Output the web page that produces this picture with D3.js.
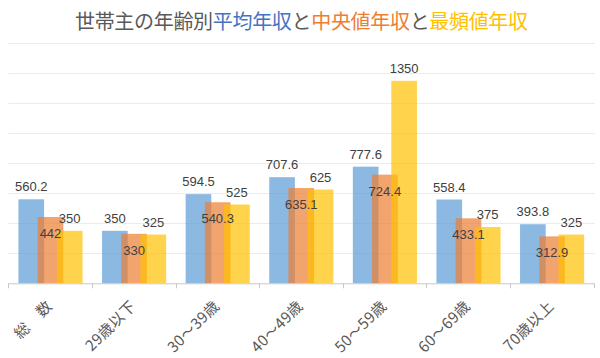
<!DOCTYPE html>
<html><head><meta charset="utf-8">
<script src="https://cdn.jsdelivr.net/npm/d3@7"></script>
<style>body{margin:0;background:#fff}svg{display:block}</style>
</head><body>
<script>
const categories = ["総　数","29歳以下","30～39歳","40～49歳","50～59歳","60～69歳","70歳以上"];
const meanIncome = [560.2, 350, 594.5, 707.6, 777.6, 558.4, 393.8];
const medianIncome = [442, 330, 540.3, 635.1, 724.4, 433.1, 312.9];
const modeIncome = [350, 325, 525, 625, 1350, 375, 325];
const yTicks = [0,200,400,600,800,1000,1200,1400,1600];
const seriesNames = ["平均年収","中央値年収","最頻値年収"];
const seriesColors = ["#5B9BD5","#ED7D31","#FFC000"];

const W=600,H=358;
const svg=d3.select("body").append("svg").attr("width",W).attr("height",H);
const x=d3.scaleBand().domain(categories).range([8.4,593.6]).padding(0);
const y=d3.scaleLinear().domain([0,1600]).range([283.3,43.3]);
const sub=d3.scaleLinear().domain([0,2]).range([0.12,0.58]); // fraction of band
const barW=x.bandwidth()*0.307;

// gridlines
svg.append("g").selectAll("line").data(yTicks.filter(d=>d>0)).join("line")
  .attr("x1",8.4).attr("x2",595).attr("y1",d=>Math.round(y(d))+0.5).attr("y2",d=>Math.round(y(d))+0.5)
  .attr("stroke","#ebebeb").attr("stroke-width",1);

const series=[meanIncome,medianIncome,modeIncome];
series.forEach((vals,si)=>{
  svg.append("g").selectAll("rect").data(vals).join("rect")
    .attr("x",(d,i)=>x(categories[i])+x.bandwidth()*sub(si))
    .attr("width",barW)
    .attr("y",d=>y(d)).attr("height",d=>y(0)-y(d))
    .attr("fill",seriesColors[si]).attr("fill-opacity",0.7);
});

// axis
const xAxis=d3.axisBottom(x).tickSize(0).tickFormat("");
const ag=svg.append("g").attr("transform",`translate(0,${y(0)})`).call(xAxis);
ag.select(".domain").attr("stroke","#c8c8c8");
svg.append("g").selectAll("line").data(categories.concat(["end"])).join("line")
  .attr("x1",(d,i)=>Math.round(8.4+x.bandwidth()*i)+0.5).attr("x2",(d,i)=>Math.round(8.4+x.bandwidth()*i)+0.5)
  .attr("y1",y(0)).attr("y2",y(0)+5).attr("stroke","#c8c8c8");

// category labels
svg.append("g").selectAll("text").data(categories).join("text")
  .attr("transform",d=>`translate(${x(d)+x.bandwidth()/2+3},307) rotate(-45)`)
  .attr("text-anchor","end").attr("font-family","'Noto Sans CJK JP','Noto Sans',sans-serif")
  .attr("font-size",15).attr("letter-spacing",0.4).attr("fill","#595959").text(d=>d);

// value labels
const lf="'Liberation Sans','Noto Sans',sans-serif";
series.forEach((vals,si)=>{
  svg.append("g").selectAll("text").data(vals).join("text")
    .attr("x",(d,i)=>x(categories[i])+x.bandwidth()*sub(si)+barW/2)
    .attr("y",d=> si===1 ? y(d)+21 : y(d)-8)
    .attr("text-anchor","middle").attr("font-family",lf).attr("font-size",13)
    .attr("fill","#404040").text(d=>d);
});

// title
const title=svg.append("text").attr("x",75).attr("y",29).attr("text-anchor","start")
  .attr("font-family","'Noto Sans CJK JP',sans-serif").attr("font-size",20);
const parts=[["世帯主の年齢別","#595959"],[seriesNames[0],"#4472C4"],["と","#595959"],[seriesNames[1],"#ED7D31"],["と","#595959"],[seriesNames[2],"#FFC000"]];
parts.forEach(p=>title.append("tspan").attr("fill",p[1]).text(p[0]));
const nat=title.node().getComputedTextLength();
const nChars=parts.map(p=>p[0]).join("").length;
title.attr("letter-spacing",(453-nat)/(nChars-1));
</script>
</body></html>
